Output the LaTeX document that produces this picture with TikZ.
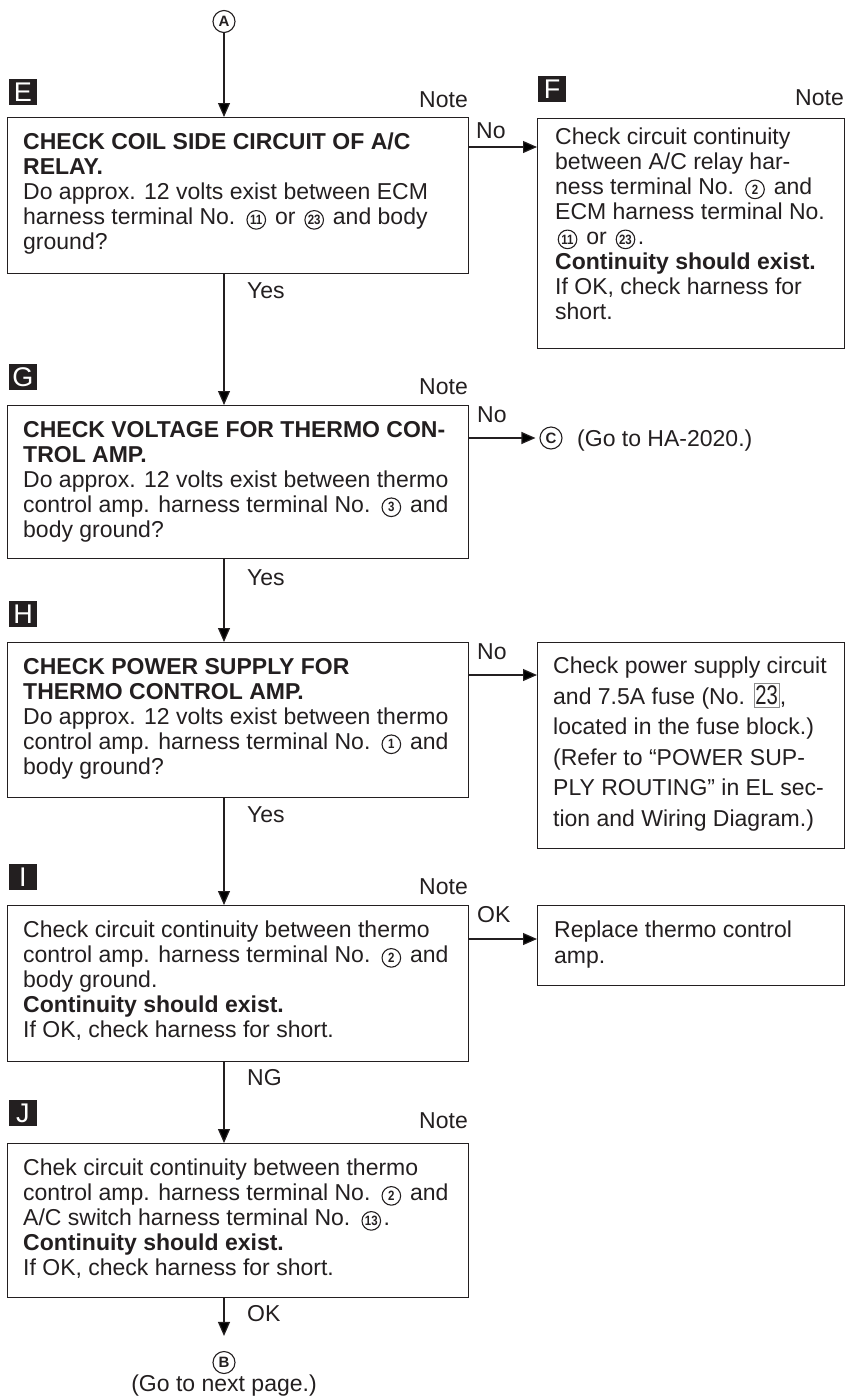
\documentclass[tikz,border=0pt]{standalone}
\usepackage{fontspec}
\setmainfont{Liberation Sans}
\usetikzlibrary{arrows.meta,calc}
\definecolor{ink}{RGB}{35,31,32}

\newcommand\cnum[1]{\hspace{2.5pt}\tikz[x=1pt,y=1pt,baseline=0pt]{\draw[line width=1.1pt,draw=ink] (0,5) circle[radius=9.3];
 \node[shape=rectangle,draw=none,fill=none,anchor=center,align=center,inner sep=0pt,text=ink,font=\fontsize{13.5}{13.5}\selectfont\bfseries\addfontfeature{FakeStretch=0.85}] (cn) at (0,5) {#1};}\hspace{2.5pt}}
\newcommand\fusebox[1]{\tikz[x=1pt,y=1pt,baseline=0pt]{\node[shape=rectangle,draw=black!45,fill=none,line width=0.8pt,anchor=base,align=center,inner xsep=1.5pt,inner ysep=2.5pt,text=ink,font=\fontsize{27}{27}\selectfont\addfontfeature{FakeStretch=0.75}] (fb) at (0,0) {#1};}}

\begin{document}
\begin{tikzpicture}[x=1pt,y=-1pt,
  box/.style={draw=ink, line width=1.3pt, inner sep=0pt, anchor=north west, minimum width=461pt},
  sbox/.style={box, minimum width=307pt},
  lab/.style={fill=ink, text=white, minimum width=28pt, minimum height=26pt, inner sep=0pt, font=\fontsize{27}{27}\selectfont},
  circ/.style={circle, draw=ink, line width=1.1pt, minimum size=22pt, inner sep=0pt, text=ink, font=\fontsize{15}{15}\selectfont\bfseries},
  txt/.style={anchor=north west, inner sep=0pt, align=left, text=ink, font=\fontsize{23}{25}\selectfont},
  note/.style={anchor=base east, inner sep=0pt, text=ink, font=\fontsize{23}{25}\selectfont},
  lbl/.style={anchor=base west, inner sep=0pt, text=ink, font=\fontsize{23}{25}\selectfont},
  arr/.style={draw=ink, line width=1.2pt, -{Triangle[length=14pt,width=12pt]}}]
\useasboundingbox (0,0) rectangle (859,1398);

% A -> E
\node[circ] (A) at (224,21.5) {A};
\node[lab] (labE) at (23,92) {E};
\node[note] (noteE) at (468,107) {Note};
\node[box, minimum height=156pt] (E) at (7,117) {};
\node[txt] (Et) at (23,133) {\textbf{CHECK COIL SIDE CIRCUIT OF A/C}\\
\textbf{RELAY.}\\
Do approx. 12 volts exist between ECM\\
harness terminal No. \cnum{11} or \cnum{23} and body\\
ground?};
\draw[arr] (A) -- (A |- E.north);

% F
\node[lab] (labF) at (552,89) {F};
\node[note] (noteF) at (844,105) {Note};
\node[sbox, minimum height=230pt] (F) at (537,118) {};
\node[txt] (Ft) at (555,127.5) {Check circuit continuity\\
between A/C relay har-\\
ness terminal No. \cnum{2} and\\
ECM harness terminal No.\\
\cnum{11} or \cnum{23}.\\
\textbf{Continuity should exist.}\\
If OK, check harness for\\
short.};
\coordinate (eF) at (468,147);
\draw[arr] (eF) -- (eF -| F.west);
\node[lbl] (noE) at (476,138) {No};

% G
\node[lbl] (yes1) at (247,298) {Yes};
\node[lab] (labG) at (23,377) {G};
\node[note] (noteG) at (468,394) {Note};
\node[box, minimum height=153pt] (G) at (7,405) {};
\node[txt] (Gt) at (23,421) {\textbf{CHECK VOLTAGE FOR THERMO CON-}\\
\textbf{TROL AMP.}\\
Do approx. 12 volts exist between thermo\\
control amp. harness terminal No. \cnum{3} and\\
body ground?};
\draw[arr] (A |- E.south) -- (A |- G.north);
\node[circ] (C) at (551,438) {C};
\draw[arr, shorten >=4pt] (G.east |- C) -- (C.west);
\node[lbl] (noG) at (477,422) {No};
\node[lbl] (goC) at (577,446) {(Go to HA-2020.)};

% H
\node[lbl] (yes2) at (247,585) {Yes};
\node[lab] (labH) at (23,614) {H};
\node[box, minimum height=155pt] (H) at (7,642) {};
\node[txt] (Ht) at (23,658) {\textbf{CHECK POWER SUPPLY FOR}\\
\textbf{THERMO CONTROL AMP.}\\
Do approx. 12 volts exist between thermo\\
control amp. harness terminal No. \cnum{1} and\\
body ground?};
\draw[arr] (A |- G.south) -- (A |- H.north);
\node[sbox, minimum height=206pt] (Hs) at (537,642) {};
\node[txt, font=\fontsize{23}{30.5}\selectfont] (Hst) at (553,657) {Check power supply circuit\\
and 7.5A fuse (No. \fusebox{23},\\
located in the fuse block.)\\
(Refer to “POWER SUP-\\
PLY ROUTING” in EL sec-\\
tion and Wiring Diagram.)};
\coordinate (hN) at (468,675);
\draw[arr] (hN) -- (hN -| Hs.west);
\node[lbl] (noH) at (477,659) {No};

% I
\node[lbl] (yes3) at (247,822) {Yes};
\node[lab] (labI) at (23,877) {I};
\node[note] (noteI) at (468,894) {Note};
\node[box, minimum height=156pt] (I) at (7,905) {};
\node[txt] (It) at (23,921) {Check circuit continuity between thermo\\
control amp. harness terminal No. \cnum{2} and\\
body ground.\\
\textbf{Continuity should exist.}\\
If OK, check harness for short.};
\draw[arr] (A |- H.south) -- (A |- I.north);
\node[sbox, minimum height=80pt] (Is) at (537,905) {};
\node[txt, font=\fontsize{23}{25.5}\selectfont] (Ist) at (554,921) {Replace thermo control\\
amp.};
\coordinate (iN) at (468,939);
\draw[arr] (iN) -- (iN -| Is.west);
\node[lbl] (okI) at (477,922) {OK};

% J
\node[lbl] (ng) at (247,1085) {NG};
\node[lab] (labJ) at (23,1113) {J};
\node[note] (noteJ) at (468,1128) {Note};
\node[box, minimum height=154pt] (J) at (7,1143) {};
\node[txt] (Jt) at (23,1159) {Chek circuit continuity between thermo\\
control amp. harness terminal No. \cnum{2} and\\
A/C switch harness terminal No. \cnum{13}.\\
\textbf{Continuity should exist.}\\
If OK, check harness for short.};
\draw[arr] (A |- I.south) -- (A |- J.north);

% B
\node[lbl] (okJ) at (247,1321) {OK};
\node[circ] (B) at (224,1362.5) {B};
\draw[arr, shorten >=15pt] (B |- J.south) -- (B.north);
\node[anchor=base, inner sep=0pt, text=ink, font=\fontsize{23}{25}\selectfont] (gonext) at (224,1391) {(Go to next page.)};
\end{tikzpicture}
\end{document}
